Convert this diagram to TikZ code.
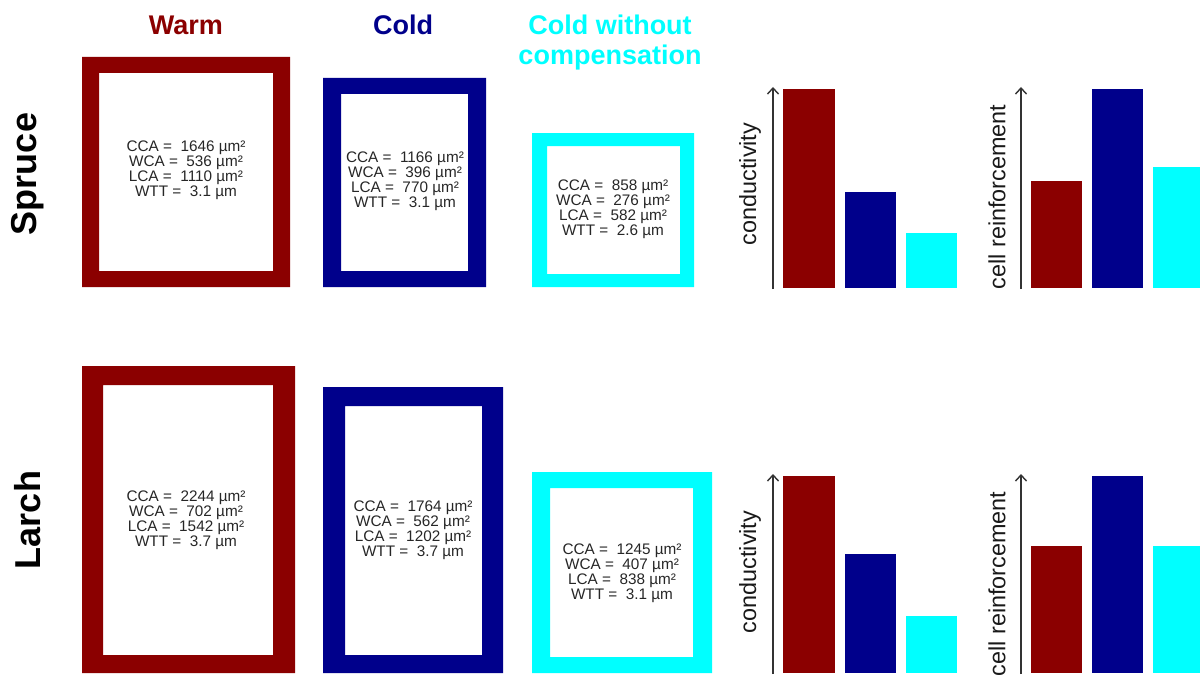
\documentclass[tikz,border=0pt]{standalone}
\usepackage{fontspec}
\setmainfont{Liberation Sans}
\usetikzlibrary{arrows.meta}
\definecolor{warmc}{HTML}{8B0000}
\definecolor{coldc}{HTML}{00008B}
\definecolor{cyanc}{HTML}{00FFFF}
\begin{document}
\begin{tikzpicture}[x=1pt,y=-1pt,
  title/.style={font=\fontsize{27}{30}\selectfont\bfseries, inner sep=0, align=center},
  species/.style={font=\fontsize{36}{36}\selectfont\bfseries, rotate=90, inner sep=0},
  celltxt/.style={font=\fontsize{15.3}{15}\selectfont, align=center, inner sep=0, text=black!85},
  axislbl/.style={font=\fontsize{23.4}{24}\selectfont, rotate=90, inner sep=0, text=black!90},
  axisarrow/.style={line width=1.4pt, draw=black!80, -{Straight Barb[length=6pt,width=11pt]}},
  frame/.style={even odd rule}
]
\useasboundingbox (0,0) rectangle (1200,677);

% titles
\node[title, text=warmc, anchor=base] (tw) at (186,35) {Warm};
\node[title, text=coldc, anchor=base] (tc) at (403,35) {Cold};
\node[title, text=cyanc] (tn) at (610,43) {Cold without\\compensation};

% species
\node[species] (sp) at (28,174) {Spruce};
\node[species] (la) at (28,520) {Larch};

% ---- Spruce cells
\fill[warmc, frame] (82,57) rectangle (290,287) (99,73) rectangle (273,271);
\node[celltxt] (sw) at (186,170) {CCA = \ 1646 µm²\\WCA = \ 536 µm²\\LCA = \ 1110 µm²\\WTT = \ 3.1 µm};
\fill[coldc, frame] (323,78) rectangle (486,287) (341,94) rectangle (468,271);
\node[celltxt] (sc) at (405,181) {CCA = \ 1166 µm²\\WCA = \ 396 µm²\\LCA = \ 770 µm²\\WTT = \ 3.1 µm};
\fill[cyanc, frame] (532,133) rectangle (694,287) (547,146) rectangle (680,274);
\node[celltxt] (sn) at (613,209) {CCA = \ 858 µm²\\WCA = \ 276 µm²\\LCA = \ 582 µm²\\WTT = \ 2.6 µm};

% ---- Larch cells
\fill[warmc, frame] (82,366) rectangle (295,673) (103,385) rectangle (273,655);
\node[celltxt] (lw) at (186,520) {CCA = \ 2244 µm²\\WCA = \ 702 µm²\\LCA = \ 1542 µm²\\WTT = \ 3.7 µm};
\fill[coldc, frame] (323,387) rectangle (503,673) (345,406) rectangle (482,655);
\node[celltxt] (lc) at (413,530) {CCA = \ 1764 µm²\\WCA = \ 562 µm²\\LCA = \ 1202 µm²\\WTT = \ 3.7 µm};
\fill[cyanc, frame] (532,472) rectangle (712,673) (550,488) rectangle (693,657);
\node[celltxt] (ln) at (622,573) {CCA = \ 1245 µm²\\WCA = \ 407 µm²\\LCA = \ 838 µm²\\WTT = \ 3.1 µm};

% ---- Spruce charts
\coordinate (a1s) at (773,289); \coordinate (a1e) at (773,87);
\draw[axisarrow] (a1s) -- (a1e);
\fill[warmc] (783,89) rectangle (835,288);
\fill[coldc] (845,192) rectangle (896,288);
\fill[cyanc] (906,233) rectangle (957,288);
\node[axislbl] (c1) at (750,184) {conductivity};

\coordinate (a2s) at (1021,289); \coordinate (a2e) at (1021,87);
\draw[axisarrow] (a2s) -- (a2e);
\fill[warmc] (1031,181) rectangle (1082,288);
\fill[coldc] (1092,89) rectangle (1143,288);
\fill[cyanc] (1153,167) rectangle (1204,288);
\node[axislbl] (r1) at (997,197) {cell reinforcement};

% ---- Larch charts
\coordinate (b1s) at (773,674); \coordinate (b1e) at (773,474);
\draw[axisarrow] (b1s) -- (b1e);
\fill[warmc] (783,476) rectangle (835,673);
\fill[coldc] (845,554) rectangle (896,673);
\fill[cyanc] (906,616) rectangle (957,673);
\node[axislbl] (c2) at (750,572) {conductivity};

\coordinate (b2s) at (1021,674); \coordinate (b2e) at (1021,474);
\draw[axisarrow] (b2s) -- (b2e);
\fill[warmc] (1031,546) rectangle (1082,673);
\fill[coldc] (1092,476) rectangle (1143,673);
\fill[cyanc] (1153,546) rectangle (1204,673);
\node[axislbl] (r2) at (997,584) {cell reinforcement};
\end{tikzpicture}
\end{document}
